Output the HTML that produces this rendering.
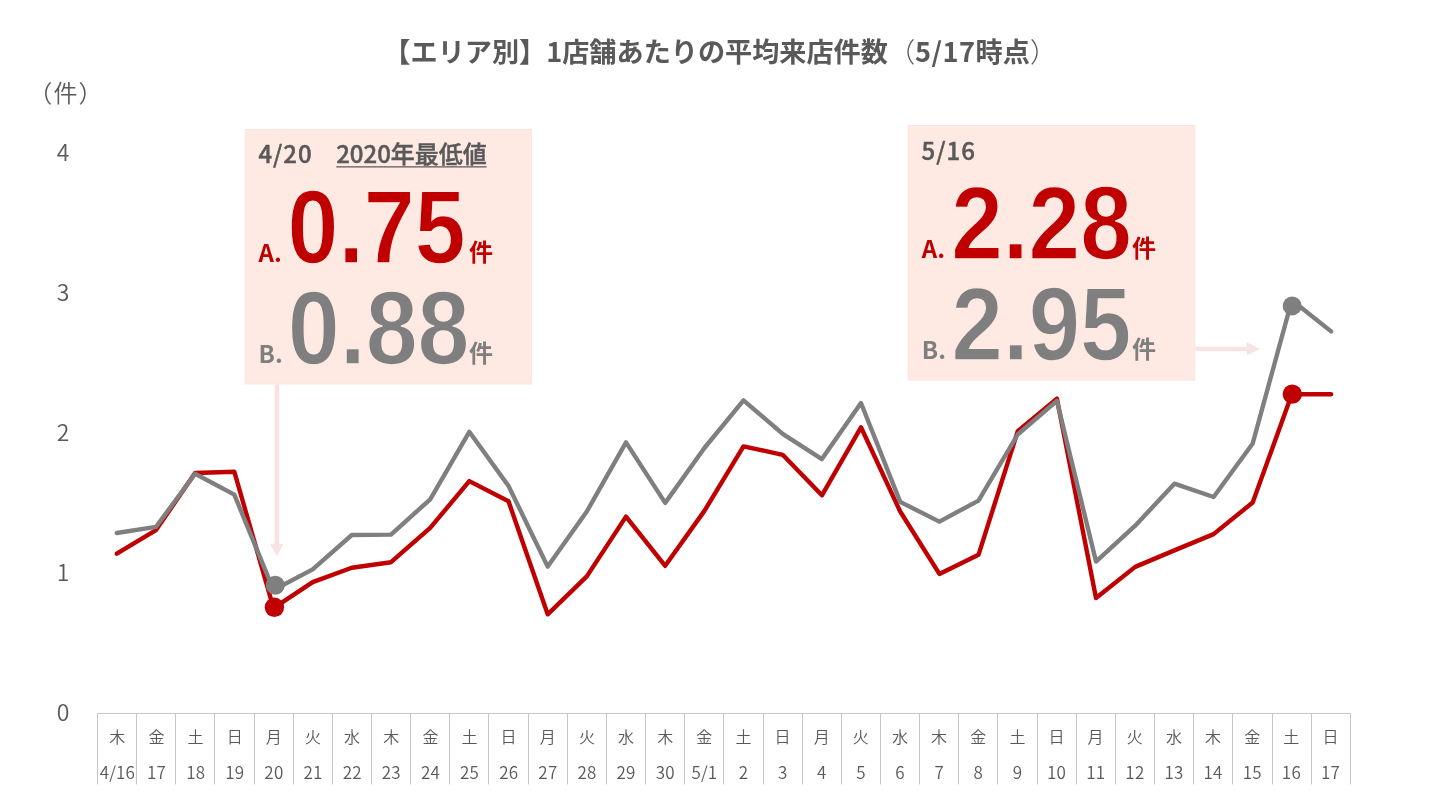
<!DOCTYPE html>
<html lang="ja"><head><meta charset="utf-8"><title>【エリア別】1店舗あたりの平均来店件数</title>
<style>
html,body{margin:0;padding:0;background:#fff;}
body{width:1440px;height:810px;overflow:hidden;}
svg{display:block;will-change:transform;}
text{font-family:"Noto Sans CJK JP","Liberation Sans",sans-serif;}
.lat{font-family:"Liberation Sans","Noto Sans CJK JP",sans-serif;}
.ax{font-weight:350;fill:#595959;}
.b{font-weight:700;}
.big{font-family:"Liberation Sans","Noto Sans CJK JP",sans-serif;font-weight:700;font-size:104.2px;stroke:#feeae3;stroke-width:1.4px;paint-order:fill stroke;}
</style></head><body>
<svg width="1440" height="810" viewBox="0 0 1440 810">
<rect width="1440" height="810" fill="#fff"/>

<text x="720.2" y="62" text-anchor="middle" font-size="27.15" class="b" fill="#595959">【エリア別】1店舗あたりの平均来店件数<tspan font-weight="300">（</tspan><tspan letter-spacing="0.5">5/17</tspan>時点<tspan font-weight="300">）</tspan></text>
<text x="28.3" y="102" font-size="24" class="ax">（<tspan dx="1.3">件</tspan><tspan dx="0.9">）</tspan></text>
<text x="63.1" y="160.6" text-anchor="middle" font-size="23" class="ax">4</text>
<text x="63.1" y="300.6" text-anchor="middle" font-size="23" class="ax">3</text>
<text x="63.1" y="440.6" text-anchor="middle" font-size="23" class="ax">2</text>
<text x="63.1" y="580.6" text-anchor="middle" font-size="23" class="ax">1</text>
<text x="63.1" y="720.6" text-anchor="middle" font-size="23" class="ax">0</text>
<g stroke="#c6c6c6" stroke-width="1" fill="none">
<line x1="97" y1="713.5" x2="1351" y2="713.5"/>
<line x1="97.5" y1="713" x2="97.5" y2="784.4"/>
<line x1="136.5" y1="713" x2="136.5" y2="784.4"/>
<line x1="175.5" y1="713" x2="175.5" y2="784.4"/>
<line x1="214.5" y1="713" x2="214.5" y2="784.4"/>
<line x1="254.5" y1="713" x2="254.5" y2="784.4"/>
<line x1="293.5" y1="713" x2="293.5" y2="784.4"/>
<line x1="332.5" y1="713" x2="332.5" y2="784.4"/>
<line x1="371.5" y1="713" x2="371.5" y2="784.4"/>
<line x1="410.5" y1="713" x2="410.5" y2="784.4"/>
<line x1="449.5" y1="713" x2="449.5" y2="784.4"/>
<line x1="488.5" y1="713" x2="488.5" y2="784.4"/>
<line x1="528.5" y1="713" x2="528.5" y2="784.4"/>
<line x1="567.5" y1="713" x2="567.5" y2="784.4"/>
<line x1="606.5" y1="713" x2="606.5" y2="784.4"/>
<line x1="645.5" y1="713" x2="645.5" y2="784.4"/>
<line x1="684.5" y1="713" x2="684.5" y2="784.4"/>
<line x1="723.5" y1="713" x2="723.5" y2="784.4"/>
<line x1="763.5" y1="713" x2="763.5" y2="784.4"/>
<line x1="802.5" y1="713" x2="802.5" y2="784.4"/>
<line x1="841.5" y1="713" x2="841.5" y2="784.4"/>
<line x1="880.5" y1="713" x2="880.5" y2="784.4"/>
<line x1="919.5" y1="713" x2="919.5" y2="784.4"/>
<line x1="958.5" y1="713" x2="958.5" y2="784.4"/>
<line x1="997.5" y1="713" x2="997.5" y2="784.4"/>
<line x1="1037.5" y1="713" x2="1037.5" y2="784.4"/>
<line x1="1076.5" y1="713" x2="1076.5" y2="784.4"/>
<line x1="1115.5" y1="713" x2="1115.5" y2="784.4"/>
<line x1="1154.5" y1="713" x2="1154.5" y2="784.4"/>
<line x1="1193.5" y1="713" x2="1193.5" y2="784.4"/>
<line x1="1232.5" y1="713" x2="1232.5" y2="784.4"/>
<line x1="1272.5" y1="713" x2="1272.5" y2="784.4"/>
<line x1="1311.5" y1="713" x2="1311.5" y2="784.4"/>
<line x1="1350.5" y1="713" x2="1350.5" y2="784.4"/>
</g>
<g font-size="16" class="ax" text-anchor="middle">
<text x="117.3" y="743.3">木</text><text x="117.4" y="779" font-size="17" letter-spacing="0.2">4/16</text>
<text x="156.4" y="743.3">金</text><text x="156.5" y="779" font-size="17" letter-spacing="0.2">17</text>
<text x="195.6" y="743.3">土</text><text x="195.7" y="779" font-size="17" letter-spacing="0.2">18</text>
<text x="234.7" y="743.3">日</text><text x="234.8" y="779" font-size="17" letter-spacing="0.2">19</text>
<text x="273.8" y="743.3">月</text><text x="273.9" y="779" font-size="17" letter-spacing="0.2">20</text>
<text x="313.0" y="743.3">火</text><text x="313.1" y="779" font-size="17" letter-spacing="0.2">21</text>
<text x="352.1" y="743.3">水</text><text x="352.2" y="779" font-size="17" letter-spacing="0.2">22</text>
<text x="391.2" y="743.3">木</text><text x="391.3" y="779" font-size="17" letter-spacing="0.2">23</text>
<text x="430.4" y="743.3">金</text><text x="430.5" y="779" font-size="17" letter-spacing="0.2">24</text>
<text x="469.5" y="743.3">土</text><text x="469.6" y="779" font-size="17" letter-spacing="0.2">25</text>
<text x="508.6" y="743.3">日</text><text x="508.7" y="779" font-size="17" letter-spacing="0.2">26</text>
<text x="547.8" y="743.3">月</text><text x="547.9" y="779" font-size="17" letter-spacing="0.2">27</text>
<text x="586.9" y="743.3">火</text><text x="587.0" y="779" font-size="17" letter-spacing="0.2">28</text>
<text x="626.0" y="743.3">水</text><text x="626.1" y="779" font-size="17" letter-spacing="0.2">29</text>
<text x="665.2" y="743.3">木</text><text x="665.3" y="779" font-size="17" letter-spacing="0.2">30</text>
<text x="704.3" y="743.3">金</text><text x="704.4" y="779" font-size="17" letter-spacing="0.2">5/1</text>
<text x="743.4" y="743.3">土</text><text x="743.5" y="779" font-size="17" letter-spacing="0.2">2</text>
<text x="782.6" y="743.3">日</text><text x="782.7" y="779" font-size="17" letter-spacing="0.2">3</text>
<text x="821.7" y="743.3">月</text><text x="821.8" y="779" font-size="17" letter-spacing="0.2">4</text>
<text x="860.8" y="743.3">火</text><text x="860.9" y="779" font-size="17" letter-spacing="0.2">5</text>
<text x="900.0" y="743.3">水</text><text x="900.1" y="779" font-size="17" letter-spacing="0.2">6</text>
<text x="939.1" y="743.3">木</text><text x="939.2" y="779" font-size="17" letter-spacing="0.2">7</text>
<text x="978.2" y="743.3">金</text><text x="978.3" y="779" font-size="17" letter-spacing="0.2">8</text>
<text x="1017.4" y="743.3">土</text><text x="1017.5" y="779" font-size="17" letter-spacing="0.2">9</text>
<text x="1056.5" y="743.3">日</text><text x="1056.6" y="779" font-size="17" letter-spacing="0.2">10</text>
<text x="1095.6" y="743.3">月</text><text x="1095.7" y="779" font-size="17" letter-spacing="0.2">11</text>
<text x="1134.8" y="743.3">火</text><text x="1134.9" y="779" font-size="17" letter-spacing="0.2">12</text>
<text x="1173.9" y="743.3">水</text><text x="1174.0" y="779" font-size="17" letter-spacing="0.2">13</text>
<text x="1213.0" y="743.3">木</text><text x="1213.1" y="779" font-size="17" letter-spacing="0.2">14</text>
<text x="1252.2" y="743.3">金</text><text x="1252.3" y="779" font-size="17" letter-spacing="0.2">15</text>
<text x="1291.3" y="743.3">土</text><text x="1291.4" y="779" font-size="17" letter-spacing="0.2">16</text>
<text x="1330.4" y="743.3">日</text><text x="1330.5" y="779" font-size="17" letter-spacing="0.2">17</text>
</g>
<rect x="245.1" y="129.5" width="286.5" height="254.5" fill="#feeae3" stroke="#ffe4dc" stroke-width="1"/>
<rect x="908.3" y="125.5" width="286.6" height="254.5" fill="#feeae3" stroke="#ffe4dc" stroke-width="1"/>
<g stroke="#f9e2e3" stroke-width="4.4" fill="#f9e2e3">
<line x1="276.8" y1="384.5" x2="276.8" y2="545"/><path d="M270.3,543.7 L283.3,543.7 L276.8,556.4 Z" stroke="none"/>
<line x1="1195.4" y1="348.9" x2="1248" y2="348.9"/><path d="M1246.6,342.2 L1246.6,355.6 L1260,348.9 Z" stroke="none"/>
</g>
<polyline points="116.8,553.6 156.0,530.1 195.1,473.0 234.3,471.7 273.5,608.2 312.7,582.1 351.8,567.7 391.0,562.2 430.2,527.9 469.3,481.1 508.5,501.3 547.7,614.3 586.8,576.4 626.0,516.6 665.2,565.8 704.4,510.9 743.5,446.4 782.7,454.8 821.9,495.3 861.0,427.3 900.2,511.5 939.4,573.9 978.5,554.8 1017.7,431.3 1056.9,398.6 1096.0,598.0 1135.2,566.9 1174.4,550.4 1213.6,534.1 1252.7,502.5 1291.9,394.1 1331.1,394.3" fill="none" stroke="#c00000" stroke-width="4.4" stroke-linejoin="round" stroke-linecap="round"/>
<polyline points="116.8,533.0 156.0,526.9 195.1,473.7 234.3,494.6 273.5,590.0 312.7,569.4 351.8,535.0 391.0,534.6 430.2,499.3 469.3,431.8 508.5,485.9 547.7,566.6 586.8,511.5 626.0,442.4 665.2,502.9 704.4,448.0 743.5,400.4 782.7,433.9 821.9,459.1 861.0,403.0 900.2,501.9 939.4,521.6 978.5,500.6 1017.7,434.5 1056.9,400.9 1096.0,561.6 1135.2,525.7 1174.4,483.7 1213.6,497.0 1252.7,443.5 1291.9,300.2 1331.1,331.4" fill="none" stroke="#7f7f7f" stroke-width="4.4" stroke-linejoin="round" stroke-linecap="round"/>
<circle cx="274.4" cy="607.3" r="9.7" fill="#c00000"/><circle cx="275.3" cy="585.2" r="9.5" fill="#7f7f7f"/>
<circle cx="1292.3" cy="394.1" r="9.7" fill="#c00000"/><circle cx="1292.2" cy="305.9" r="9.5" fill="#7f7f7f"/>
<text x="258.4" y="163.3" font-size="24" font-weight="500" fill="#595959" stroke="#595959" stroke-width="0.45" textLength="53.3" lengthAdjust="spacing">4/20</text>
<text x="336.2" y="163.3" font-size="24" font-weight="500" fill="#595959" stroke="#595959" stroke-width="0.45" textLength="150.5" lengthAdjust="spacing">2020年最低値</text>
<line x1="336.3" y1="166.9" x2="486.6" y2="166.9" stroke="#595959" stroke-width="1.4"/>
<text x="258.6" y="261.8" font-size="24" class="b" fill="#c00000">A.</text>
<text x="287.6" y="263.0" class="big" fill="#c00000" textLength="178" lengthAdjust="spacingAndGlyphs">0.75</text>
<text x="468.9" y="261.0" font-size="24" class="b" fill="#c00000">件</text>
<text x="258.6" y="362.8" font-size="24" class="b" fill="#7f7f7f">B.</text>
<text x="287.8" y="364.0" class="big" fill="#7f7f7f" textLength="181.7" lengthAdjust="spacingAndGlyphs">0.88</text>
<text x="468.9" y="362.0" font-size="24" class="b" fill="#7f7f7f">件</text>
<text x="921.6" y="159.8" font-size="24" font-weight="500" fill="#595959" stroke="#595959" stroke-width="0.45" textLength="53.3" lengthAdjust="spacing">5/16</text>
<text x="921.8" y="257.8" font-size="24" class="b" fill="#c00000">A.</text>
<text x="951.2" y="259.0" class="big" fill="#c00000" textLength="180.6" lengthAdjust="spacingAndGlyphs">2.28</text>
<text x="1132.1" y="257.0" font-size="24" class="b" fill="#c00000">件</text>
<text x="921.8" y="358.8" font-size="24" class="b" fill="#7f7f7f">B.</text>
<text x="951.6" y="360.0" class="big" fill="#7f7f7f" textLength="179.8" lengthAdjust="spacingAndGlyphs">2.95</text>
<text x="1132.1" y="358.0" font-size="24" class="b" fill="#7f7f7f">件</text>
</svg></body></html>
